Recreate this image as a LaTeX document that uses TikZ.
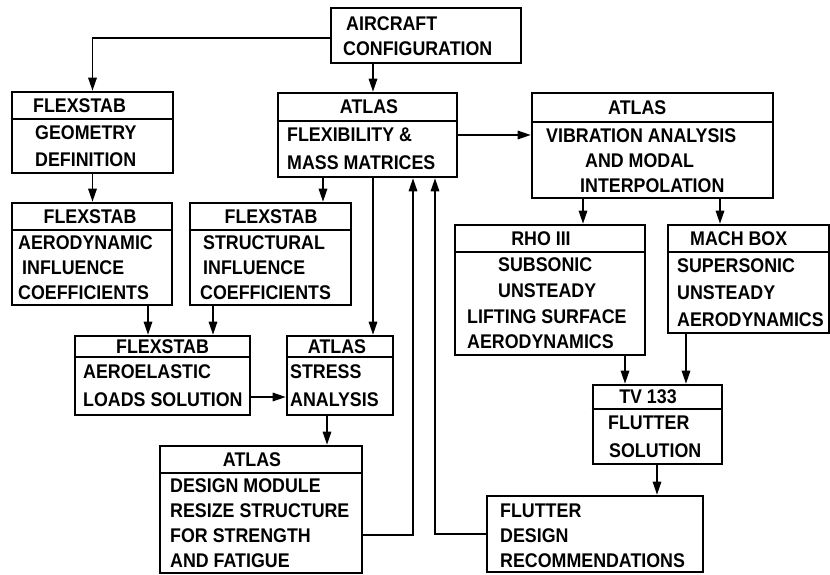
\documentclass[tikz,border=0pt]{standalone}
\usepackage{fontspec}
\setmainfont[FakeStretch=0.9]{Liberation Sans}
\usetikzlibrary{arrows.meta}
\begin{document}
\begin{tikzpicture}[x=1pt,y=-1pt,
  box/.style={draw, line width=2.6pt, inner sep=0pt},
  divline/.style={line width=1.5pt},
  arr/.style={line width=1.5pt, -{Triangle[length=13pt,width=8.5pt]}},
  txt/.style={font=\bfseries\fontsize{19.8}{21}\selectfont, inner sep=0pt},
  lt/.style={txt, anchor=west}]
\useasboundingbox (0,0) rectangle (830,575);
\fill[white] (0,0) rectangle (830,575);

% ---- boxes ----
\node[box, minimum width=190pt, minimum height=55pt] (air) at (426,35.5) {};
\node[box, minimum width=161pt, minimum height=81pt] (geo) at (92.5,132.5) {};
\node[box, minimum width=179pt, minimum height=84pt] (flex) at (367.5,135) {};
\node[box, minimum width=241pt, minimum height=105pt] (vib) at (652.5,145.5) {};
\node[box, minimum width=160pt, minimum height=102pt] (aero) at (92,254) {};
\node[box, minimum width=161pt, minimum height=102pt] (struct) at (270.5,254) {};
\node[box, minimum width=190pt, minimum height=130pt] (rho) at (550,290) {};
\node[box, minimum width=161pt, minimum height=108pt] (mach) at (748.5,279) {};
\node[box, minimum width=175pt, minimum height=79pt] (aeroel) at (162.5,375.5) {};
\node[box, minimum width=106pt, minimum height=79pt] (stress) at (340,375.5) {};
\node[box, minimum width=129pt, minimum height=79pt] (tv) at (657.5,424.5) {};
\node[box, minimum width=202pt, minimum height=127pt] (design) at (261,509.5) {};
\node[box, minimum width=216pt, minimum height=76pt] (flutter) at (595,534) {};

% ---- dividers ----
\draw[divline] (geo.west |- 0,119) -- (geo.east |- 0,119);
\draw[divline] (flex.west |- 0,121) -- (flex.east |- 0,121);
\draw[divline] (vib.west |- 0,122) -- (vib.east |- 0,122);
\draw[divline] (aero.west |- 0,230) -- (aero.east |- 0,230);
\draw[divline] (struct.west |- 0,230) -- (struct.east |- 0,230);
\draw[divline] (rho.west |- 0,252) -- (rho.east |- 0,252);
\draw[divline] (mach.west |- 0,252) -- (mach.east |- 0,252);
\draw[divline] (aeroel.west |- 0,357) -- (aeroel.east |- 0,357);
\draw[divline] (stress.west |- 0,357) -- (stress.east |- 0,357);
\draw[divline] (tv.west |- 0,409) -- (tv.east |- 0,409);
\draw[divline] (design.west |- 0,473) -- (design.east |- 0,473);

% ---- texts ----
\node[lt] (airA) at (346,24) {AIRCRAFT};
\node[lt] (airB) at (343,49) {CONFIGURATION};

\node[lt] (geoH) at (33,105.5) {FLEXSTAB};
\node[lt] (geo1) at (35,132.5) {GEOMETRY};
\node[lt] (geo2) at (35,159.5) {DEFINITION};

\node[txt] (flexH) at (369,107) {ATLAS};
\node[lt] (flex1) at (287,135) {FLEXIBILITY \&};
\node[lt] (flex2) at (287,163) {MASS MATRICES};

\node[lt] (vibH) at (608,107.5) {ATLAS};
\node[lt] (vib1) at (546,135.3) {VIBRATION ANALYSIS};
\node[lt] (vib2) at (585,160.7) {AND MODAL};
\node[lt] (vib3) at (580,186) {INTERPOLATION};

\node[txt] (aeroH) at (90,216.5) {FLEXSTAB};
\node[lt] (aero1) at (18,242.5) {AERODYNAMIC};
\node[lt] (aero2) at (22,267.5) {INFLUENCE};
\node[lt] (aero3) at (18,292.5) {COEFFICIENTS};

\node[txt] (structH) at (271,216.5) {FLEXSTAB};
\node[lt] (struct1) at (203,242.5) {STRUCTURAL};
\node[lt] (struct2) at (203,267.5) {INFLUENCE};
\node[lt] (struct3) at (200,292.5) {COEFFICIENTS};

\node[txt] (rhoH) at (541,238.5) {RHO III};
\node[lt] (rho1) at (498,265) {SUBSONIC};
\node[lt] (rho2) at (498,290.6) {UNSTEADY};
\node[lt] (rho3) at (467,316.4) {LIFTING SURFACE};
\node[lt] (rho4) at (467,342) {AERODYNAMICS};

\node[lt] (machH) at (690,238.5) {MACH BOX};
\node[lt] (mach1) at (677,265.5) {SUPERSONIC};
\node[lt] (mach2) at (677,292.5) {UNSTEADY};
\node[lt] (mach3) at (677,319.5) {AERODYNAMICS};

\node[txt] (aeroelH) at (162.5,346.5) {FLEXSTAB};
\node[lt] (aeroel1) at (83,371.5) {AEROELASTIC};
\node[lt] (aeroel2) at (83,399.5) {LOADS SOLUTION};

\node[txt] (stressH) at (337,346.5) {ATLAS};
\node[lt] (stress1) at (290,371.5) {STRESS};
\node[lt] (stress2) at (290,399.5) {ANALYSIS};

\node[txt] (tvH) at (648,397) {TV 133};
\node[lt] (tv1) at (608,422.7) {FLUTTER};
\node[lt] (tv2) at (609,450.3) {SOLUTION};

\node[txt] (designH) at (252,459.5) {ATLAS};
\node[lt] (design1) at (170,485.5) {DESIGN MODULE};
\node[lt] (design2) at (170,510.5) {RESIZE STRUCTURE};
\node[lt] (design3) at (170,535.5) {FOR STRENGTH};
\node[lt] (design4) at (170,560.5) {AND FATIGUE};

\node[lt] (flut1) at (500,511) {FLUTTER};
\node[lt] (flut2) at (500,536) {DESIGN};
\node[lt] (flut3) at (500,561) {RECOMMENDATIONS};

% ---- connector guide coordinates ----
\coordinate (xA) at (373,0);
\coordinate (xB) at (323,0);
\coordinate (xD) at (413,0);
\coordinate (xE) at (435,0);
\coordinate (xF) at (148,0);
\coordinate (xG) at (213,0);
\coordinate (xH) at (327,0);
\coordinate (xI) at (583,0);
\coordinate (xJ) at (720,0);
\coordinate (xK) at (625,0);
\coordinate (xL) at (686,0);
\coordinate (xM) at (657,0);
\coordinate (yA) at (0,38);
\coordinate (yC) at (0,535);
\coordinate (yF) at (0,397);

% ---- connectors ----
\draw[arr] (air.west |- yA) -| (geo.north);
\draw[arr] (air.south -| xA) -- (flex.north -| xA);
\draw[arr] (flex.east) -- (vib.west |- flex.east);
\draw[arr] (geo.south) -- (aero.north -| geo.south);
\draw[arr] (flex.south -| xB) -- (struct.north -| xB);
\draw[arr] (flex.south -| xA) -- (stress.north -| xA);
\draw[arr] (design.east |- yC) -| (flex.south -| xD);
\draw[arr] (flutter.west) -| (flex.south -| xE);
\draw[arr] (aero.south -| xF) -- (aeroel.north -| xF);
\draw[arr] (struct.south -| xG) -- (aeroel.north -| xG);
\draw[arr] (aeroel.east |- yF) -- (stress.west |- yF);
\draw[arr] (stress.south -| xH) -- (design.north -| xH);
\draw[arr] (vib.south -| xI) -- (rho.north -| xI);
\draw[arr] (vib.south -| xJ) -- (mach.north -| xJ);
\draw[arr] (rho.south -| xK) -- (tv.north -| xK);
\draw[arr] (mach.south -| xL) -- (tv.north -| xL);
\draw[arr] (tv.south -| xM) -- (flutter.north -| xM);
\end{tikzpicture}
\end{document}
